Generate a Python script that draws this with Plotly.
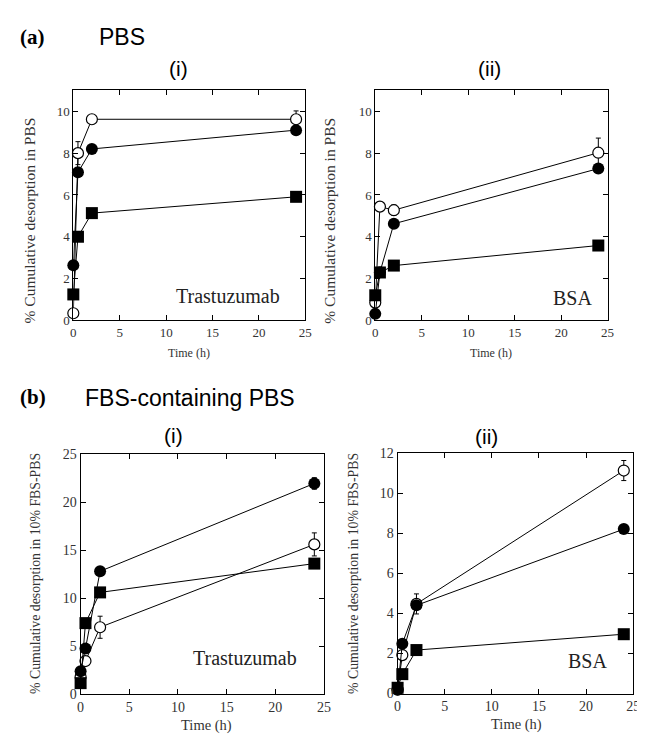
import plotly.graph_objects as go

W, H = 645, 736

time_h = [0, 0.5, 2, 24]

# (a)(i) PBS, Trastuzumab
ai_open = [0.34, 8.0, 9.62, 9.62]
ai_open_err = [0, 0.55, 0, 0.4]
ai_filled = [2.64, 7.08, 8.2, 9.1]
ai_square = [1.24, 4.0, 5.13, 5.91]

# (a)(ii) PBS, BSA
aii_open = [0.85, 5.44, 5.27, 8.02]
aii_open_err = [0.1, 0.15, 0.25, 0.7]
aii_filled = [0.31, 2.3, 4.62, 7.26]
aii_square = [1.2, 2.29, 2.62, 3.58]

# (b)(i) FBS-PBS, Trastuzumab
bi_open = [1.8, 3.45, 6.97, 15.6]
bi_open_err = [0, 0.4, 1.15, 1.2]
bi_filled = [2.38, 4.75, 12.8, 21.95]
bi_filled_err = [0, 0, 0, 0.6]
bi_square = [1.15, 7.4, 10.6, 13.6]

# (b)(ii) FBS-PBS, BSA
bii_open = [0.2, 1.92, 4.47, 11.12]
bii_open_err = [0, 0.2, 0.5, 0.5]
bii_filled = [0.2, 2.49, 4.4, 8.2]
bii_square = [0.29, 0.97, 2.17, 2.96]

x_ticks = [0, 5, 10, 15, 20, 25]

panels = [
    dict(key="1", xpx=(63.3, 299), ypx=(77, 311.7), yr=[0, 11], dt=2,
         open=ai_open, oerr=ai_open_err, filled=ai_filled, ferr=None, square=ai_square, fs=13),
    dict(key="2", xpx=(370, 606), ypx=(77, 311.7), yr=[0, 11], dt=2,
         open=aii_open, oerr=aii_open_err, filled=aii_filled, ferr=None, square=aii_square, fs=13),
    dict(key="3", xpx=(70.7, 318), ypx=(448.3, 693.3), yr=[0, 25], dt=5,
         open=bi_open, oerr=bi_open_err, filled=bi_filled, ferr=bi_filled_err, square=bi_square, fs=14),
    dict(key="4", xpx=(392.7, 632), ypx=(447, 692.7), yr=[0, 12], dt=2,
         open=bii_open, oerr=bii_open_err, filled=bii_filled, ferr=None, square=bii_square, fs=14),
]

fig = go.Figure()
serif = "Liberation Serif, Times New Roman, serif"
sans = "Liberation Sans, Arial, sans-serif"

layout = {}
for p in panels:
    k = p["key"]
    xa = "x" if k == "1" else "x" + k
    ya = "y" if k == "1" else "y" + k
    line = dict(color="black", width=1)
    fig.add_trace(go.Scatter(
        x=time_h, y=p["open"], xaxis=xa, yaxis=ya, mode="lines+markers",
        line=line, cliponaxis=False,
        marker=dict(symbol="circle", size=11, color="white", line=dict(color="black", width=1.2)),
        error_y=dict(type="data", array=p["oerr"], visible=True, color="black", thickness=1, width=2.5),
        showlegend=False))
    fig.add_trace(go.Scatter(
        x=time_h, y=p["filled"], xaxis=xa, yaxis=ya, mode="lines+markers",
        line=line, cliponaxis=False,
        marker=dict(symbol="circle", size=12, color="black"),
        error_y=(dict(type="data", array=p["ferr"], visible=True, color="black", thickness=1, width=2.5)
                 if p["ferr"] else None),
        showlegend=False))
    fig.add_trace(go.Scatter(
        x=time_h, y=p["square"], xaxis=xa, yaxis=ya, mode="lines+markers",
        line=line, cliponaxis=False,
        marker=dict(symbol="square", size=12, color="black"),
        showlegend=False))
    xname = "xaxis" if k == "1" else "xaxis" + k
    yname = "yaxis" if k == "1" else "yaxis" + k
    layout[xname] = dict(
        domain=[p["xpx"][0] / W, p["xpx"][1] / W], anchor=ya, range=[0, 25],
        tickvals=x_ticks, ticks="inside", ticklen=5, tickcolor="black",
        showline=True, linecolor="black", linewidth=1, mirror="ticks",
        showgrid=False, zeroline=False,
        tickfont=dict(family=serif, size=p["fs"], color="#333"))
    layout[yname] = dict(
        domain=[1 - p["ypx"][1] / H, 1 - p["ypx"][0] / H], anchor=xa, range=p["yr"],
        dtick=p["dt"], tick0=0, ticks="inside", ticklen=5, tickcolor="black",
        showline=True, linecolor="black", linewidth=1, mirror="ticks",
        showgrid=False, zeroline=False,
        tickfont=dict(family=serif, size=p["fs"], color="#333"))

annotations = []

def ann(text, x, y, size, family, angle=0, color="black", bold=False):
    t = "<b>%s</b>" % text if bold else text
    annotations.append(dict(text=t, x=x / W, y=1 - y / H, xref="paper", yref="paper",
                            showarrow=False, textangle=angle, xanchor="center", yanchor="middle",
                            font=dict(family=family, size=size, color=color)))

ann("(a)", 22, 22, 21, serif, bold=True)
ann("PBS", 113, 22, 23, sans)
ann("(i)", 170, 55, 21, sans)
ann("(ii)", 486, 55, 21, sans)
ann("(b)", 22, 390, 21, serif, bold=True)
ann("FBS-containing PBS", 182, 391, 23, sans)
ann("(i)", 165, 429, 21, sans)
ann("(ii)", 483, 430, 21, sans)

ann("Trastuzumab", 220, 287, 20, serif, color="#222")
ann("BSA", 570, 289, 20, serif, color="#222")
ann("Trastuzumab", 238, 656, 20, serif, color="#222")
ann("BSA", 586, 659, 20, serif, color="#222")

ann("% Cumulative desorption in PBS", 19, 210, 15.5, serif, angle=-90, color="#333")
ann("% Cumulative desorption in PBS", 324, 210, 15.5, serif, angle=-90, color="#333")
ann("% Cumulative desorption in 10% FBS-PBS", 25, 570, 13.8, serif, angle=-90, color="#333")
ann("% Cumulative desorption in 10% FBS-PBS", 348, 570, 13.8, serif, angle=-90, color="#333")

ann("Time (h)", 181, 345, 12, serif, color="#333")
ann("Time (h)", 488, 345, 12, serif, color="#333")
ann("Time (h)", 199, 725, 14.5, serif, color="#333")
ann("Time (h)", 513, 724, 14.5, serif, color="#333")

fig.update_layout(width=W, height=H, margin=dict(l=0, r=0, t=0, b=0),
                  paper_bgcolor="white", plot_bgcolor="white",
                  annotations=annotations, **layout)

fig.write_html("out.html")
